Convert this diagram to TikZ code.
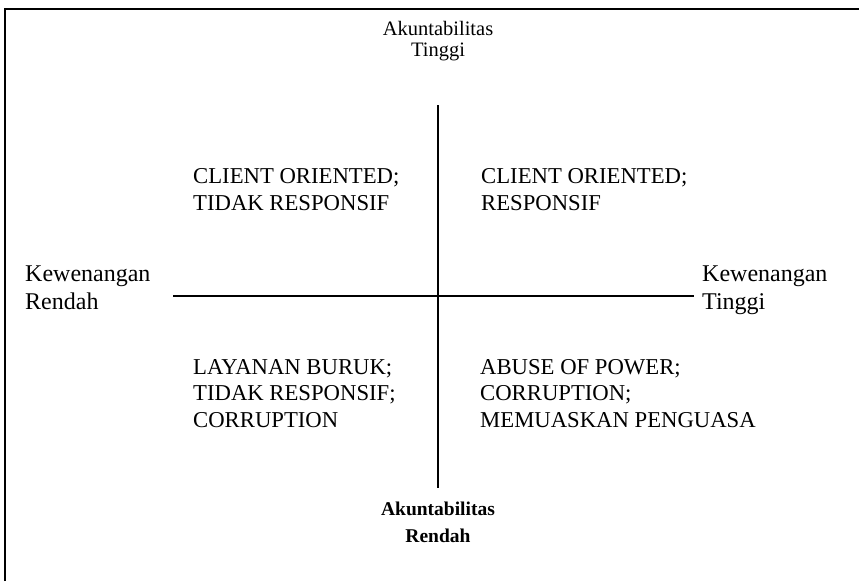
\documentclass[tikz,border=0pt]{standalone}
\usepackage{fontspec}
\setmainfont{Liberation Serif}
\begin{document}
\begin{tikzpicture}[x=1pt,y=-1pt,
  quad/.style={anchor=base west,inner sep=0pt,align=left,font=\fontsize{22.7}{26.5}\selectfont},
  side/.style={anchor=base west,inner sep=0pt,align=left,font=\fontsize{24}{27.5}\selectfont},
  toplab/.style={anchor=base,inner sep=0pt,align=center,font=\fontsize{20.5}{20.5}\selectfont},
  botlab/.style={anchor=base,inner sep=0pt,align=center,font=\bfseries\fontsize{19.5}{27}\selectfont},
  axis/.style={line width=2pt,black},
  frame/.style={line width=2pt,black}]
\useasboundingbox (0,0) rectangle (859,581);
% frame (top and left edges)
\coordinate (fbl) at (5,581);
\coordinate (ftl) at (5,9);
\coordinate (ftr) at (859,9);
\draw[frame] (fbl) -- (ftl) -- (ftr);
% axes
\coordinate (vt) at (438,105);
\coordinate (vb) at (438,488);
\coordinate (hl) at (173,296);
\coordinate (hr) at (694,296);
\draw[axis] (vt) -- (vb);
\draw[axis] (hl) -- (hr);
% labels (positions are the baselines of the last lines)
\node[toplab] (atop) at (438,56) {Akuntabilitas\\Tinggi};
\node[botlab] (abot) at (438,542) {Akuntabilitas\\Rendah};
\node[side] (kl) at (25,309) {Kewenangan\\Rendah};
\node[side] (kr) at (702,309) {Kewenangan\\Tinggi};
\node[quad] (q1) at (193,210) {CLIENT ORIENTED;\\TIDAK RESPONSIF};
\node[quad] (q2) at (481,210) {CLIENT ORIENTED;\\RESPONSIF};
\node[quad] (q3) at (193,427) {LAYANAN BURUK;\\TIDAK RESPONSIF;\\CORRUPTION};
\node[quad] (q4) at (480,427) {ABUSE OF POWER;\\CORRUPTION;\\MEMUASKAN PENGUASA};
\end{tikzpicture}
\end{document}
